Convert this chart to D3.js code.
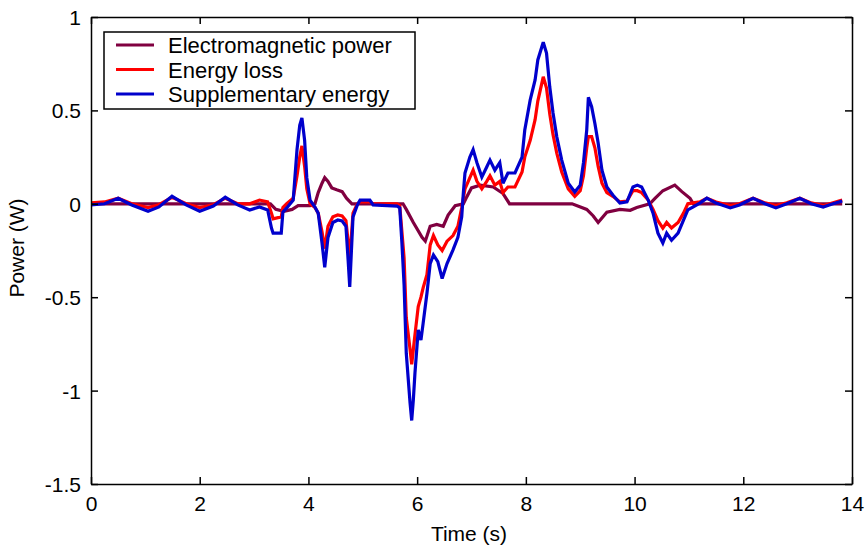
<!DOCTYPE html>
<html>
<head>
<meta charset="utf-8">
<script src="https://cdn.jsdelivr.net/npm/d3@7"></script>
<style>
    body { margin: 0; background: #fff; }
    svg { display: block; }
    text { font-family: "Liberation Sans", Arial, sans-serif; fill: #000; }
</style>
</head>
<body>
<svg id="chart"></svg>
<script>
// time stamps (s) for energy loss / supplementary energy
var timeA = [0, 0.25, 0.5, 0.75, 1.05, 1.25, 1.49, 1.75, 2.0, 2.25, 2.47, 2.7, 2.92, 3.1, 3.25, 3.32, 3.35, 3.5,
    3.53, 3.6, 3.72, 3.79, 3.84, 3.88, 3.93, 3.97, 4.03, 4.12, 4.18, 4.25, 4.3, 4.36, 4.45, 4.54, 4.62, 4.69, 4.73,
    4.76, 4.82, 4.9, 4.95, 5.13, 5.19, 5.63, 5.68, 5.72, 5.76, 5.8, 5.87, 5.9, 5.93, 5.96, 6.02, 6.07, 6.11, 6.18,
    6.24, 6.3, 6.38, 6.46, 6.55, 6.66, 6.75, 6.82, 6.85, 6.88, 6.97, 7.03, 7.1, 7.19, 7.28, 7.34, 7.43, 7.52, 7.58,
    7.67, 7.8, 7.93, 7.98, 8.08, 8.17, 8.22, 8.32, 8.38, 8.44, 8.5, 8.57, 8.66, 8.78, 8.9, 9.0, 9.06, 9.12, 9.15,
    9.21, 9.27, 9.33, 9.4, 9.49, 9.6, 9.73, 9.86, 9.97, 10.05, 10.13, 10.25, 10.34, 10.43, 10.52, 10.59, 10.68,
    10.8, 10.9, 10.98, 11.08, 11.2, 11.33, 11.5, 11.76, 11.93, 12.18, 12.4, 12.6, 12.8, 13.04, 13.25, 13.47,
    13.65, 13.82];

var supplementary = [-0.006, 0, 0.03, -0.006, -0.04, -0.017, 0.04, -0.006, -0.04, -0.012, 0.035, -0.006, -0.033,
    -0.017, -0.033, -0.13, -0.157, -0.157, -0.045, -0.022, 0.02, 0.29, 0.42, 0.46, 0.34, 0.14, 0.02, -0.017, -0.05,
    -0.21, -0.34, -0.18, -0.1, -0.087, -0.092, -0.12, -0.3, -0.445, -0.07, -0.006, 0.02, 0.02, -0.006, -0.012,
    -0.022, -0.21, -0.435, -0.8, -1.067, -1.16, -1.05, -0.905, -0.675, -0.73, -0.64, -0.48, -0.32, -0.274, -0.31,
    -0.4, -0.32, -0.247, -0.18, -0.07, 0.058, 0.165, 0.25, 0.29, 0.22, 0.143, 0.197, 0.234, 0.18, 0.22, 0.11, 0.165,
    0.165, 0.25, 0.395, 0.556, 0.663, 0.77, 0.865, 0.807, 0.625, 0.486, 0.357, 0.234, 0.11, 0.063, 0.1, 0.22,
    0.395, 0.57, 0.52, 0.43, 0.325, 0.18, 0.09, 0.047, 0.004, 0.01, 0.09, 0.1, 0.09, 0.02, -0.05, -0.157, -0.21,
    -0.157, -0.195, -0.157, -0.087, -0.033, -0.017, 0.004, 0.03, 0.004, -0.022, -0.006, 0.03, 0, -0.022, 0, 0.03,
    0, -0.017, 0, 0.015];

var energyLoss = [0.005, 0.01, 0.03, 0, -0.02, -0.005, 0.035, 0, -0.02, -0.005, 0.03, 0, 0, 0.02, 0.01, -0.05,
    -0.08, -0.07, -0.02, 0, 0.03, 0.15, 0.25, 0.31, 0.2, 0.08, 0, -0.02, -0.05, -0.15, -0.24, -0.12, -0.07, -0.06,
    -0.065, -0.09, -0.2, -0.3, -0.05, 0, 0.01, 0.01, 0, 0, -0.01, -0.15, -0.29, -0.61, -0.78, -0.86, -0.78, -0.7,
    -0.55, -0.5, -0.45, -0.38, -0.22, -0.17, -0.22, -0.25, -0.2, -0.17, -0.12, -0.02, 0.03, 0.08, 0.14, 0.18, 0.12,
    0.08, 0.12, 0.15, 0.1, 0.12, 0.06, 0.09, 0.09, 0.17, 0.25, 0.34, 0.45, 0.55, 0.68, 0.62, 0.48, 0.37, 0.27, 0.17,
    0.08, 0.04, 0.07, 0.15, 0.3, 0.36, 0.36, 0.3, 0.2, 0.11, 0.06, 0.04, 0.01, 0.015, 0.07, 0.07, 0.06, 0.02, -0.03,
    -0.09, -0.13, -0.1, -0.13, -0.1, -0.05, 0, 0.005, 0.01, 0.03, 0.01, -0.01, 0, 0.03, 0.005, -0.01, 0.005, 0.03,
    0.005, -0.01, 0.005, 0.02];

// time stamps (s) for electromagnetic power
var timeEM = [0, 3.3, 3.4, 3.55, 3.7, 3.81, 4.03, 4.12, 4.18, 4.25, 4.3, 4.36, 4.43, 4.52, 4.62, 4.7, 4.8, 5.74,
    5.8, 5.93, 6.09, 6.15, 6.24, 6.36, 6.48, 6.57, 6.7, 6.85, 6.9, 7.0, 7.16, 7.4, 7.58, 7.7, 8.85, 9.12, 9.24,
    9.33, 9.49, 9.73, 9.92, 10.04, 10.28, 10.38, 10.52, 10.74, 10.87, 11.02, 11.08, 13.82];

var emPower = [0, 0, -0.03, -0.04, -0.03, -0.01, -0.01, 0, 0.06, 0.11, 0.14, 0.12, 0.085, 0.075, 0.065, 0.03, 0,
    0, -0.03, -0.1, -0.18, -0.2, -0.12, -0.11, -0.12, -0.06, -0.01, 0, 0.03, 0.085, 0.1, 0.09, 0.055, 0, 0, -0.03,
    -0.065, -0.1, -0.045, -0.03, -0.035, -0.02, 0, 0.03, 0.07, 0.1, 0.065, 0.03, 0, 0];

var xTicks = [0, 2, 4, 6, 8, 10, 12, 14];
var yTicks = [-1.5, -1, -0.5, 0, 0.5, 1];
var seriesNames = ["Electromagnetic power", "Energy loss", "Supplementary energy"];
var seriesColors = ["#800040", "#ff0000", "#0000cc"];

var W = 865, H = 547;
var margin = { top: 17, right: 13, bottom: 63, left: 91 };
var width = W - margin.left - margin.right,
    height = H - margin.top - margin.bottom;

var svg = d3.select("#chart").attr("width", W).attr("height", H);
var g = svg.append("g").attr("transform", "translate(" + margin.left + "," + margin.top + ")");

var x = d3.scaleLinear().domain([0, 14]).range([0, width]);
var y = d3.scaleLinear().domain([-1.5, 1]).range([height, 0]);

var series = [
    { name: seriesNames[0], t: timeEM, v: emPower },
    { name: seriesNames[1], t: timeA, v: energyLoss },
    { name: seriesNames[2], t: timeA, v: supplementary }
];

svg.append("defs").append("clipPath").attr("id", "clip")
    .append("rect").attr("width", width).attr("height", height);

var line = d3.line()
    .x(function (d) { return x(d[0]); })
    .y(function (d) { return y(d[1]); });

g.append("g").attr("clip-path", "url(#clip)")
    .selectAll("path")
    .data(series)
    .enter().append("path")
    .attr("fill", "none")
    .attr("stroke", function (d, i) { return seriesColors[i]; })
    .attr("stroke-width", 3.2)
    .attr("stroke-linejoin", "miter")
    .attr("stroke-miterlimit", 3)
    .attr("d", function (d) { return line(d.t.map(function (t, i) { return [t, d.v[i]]; })); });

// axes, MATLAB style: ticks inside on all four sides
var fmt = function (d) { return String(d); };
var tickLen = 7;

var axB = g.append("g").attr("transform", "translate(0," + height + ")")
    .call(d3.axisBottom(x).tickValues(xTicks).tickFormat(fmt).tickSizeInner(-tickLen).tickSizeOuter(0).tickPadding(10));
var axT = g.append("g")
    .call(d3.axisTop(x).tickValues(xTicks).tickFormat("").tickSizeInner(-tickLen).tickSizeOuter(0));
var axL = g.append("g")
    .call(d3.axisLeft(y).tickValues(yTicks).tickFormat(fmt).tickSizeInner(-tickLen).tickSizeOuter(0).tickPadding(10));
var axR = g.append("g").attr("transform", "translate(" + width + ",0)")
    .call(d3.axisRight(y).tickValues(yTicks).tickFormat("").tickSizeInner(-tickLen).tickSizeOuter(0));

[axB, axT, axL, axR].forEach(function (a) {
    a.selectAll("path").attr("stroke", "#000").attr("stroke-width", 1.5);
    a.selectAll("line").attr("stroke", "#000").attr("stroke-width", 1.5);
    a.selectAll("text").attr("font-size", 21).attr("font-family", null);
});
axB.selectAll("text").attr("dy", "0.8em");
axL.selectAll("text").attr("dy", "0.36em");

// axis labels
svg.append("text")
    .attr("x", 469)
    .attr("y", 541)
    .attr("text-anchor", "middle")
    .attr("font-size", 21)
    .text("Time (s)");

svg.append("text")
    .attr("transform", "translate(24,248) rotate(-90)")
    .attr("text-anchor", "middle")
    .attr("font-size", 21)
    .text("Power (W)");

// legend
var legend = svg.append("g").attr("transform", "translate(104,32)");
legend.append("rect")
    .attr("width", 311).attr("height", 77)
    .attr("fill", "#fff").attr("stroke", "#000").attr("stroke-width", 1.5);

var item = legend.selectAll("g.item")
    .data(seriesNames)
    .enter().append("g")
    .attr("class", "item")
    .attr("transform", function (d, i) { return "translate(0," + (13 + i * 24.5) + ")"; });

item.append("line")
    .attr("x1", 12).attr("x2", 50)
    .attr("stroke", function (d, i) { return seriesColors[i]; })
    .attr("stroke-width", 3.2);

item.append("text")
    .attr("x", 64)
    .attr("y", 8)
    .attr("font-size", 22)
    .text(function (d) { return d; });
</script>
</body>
</html>
